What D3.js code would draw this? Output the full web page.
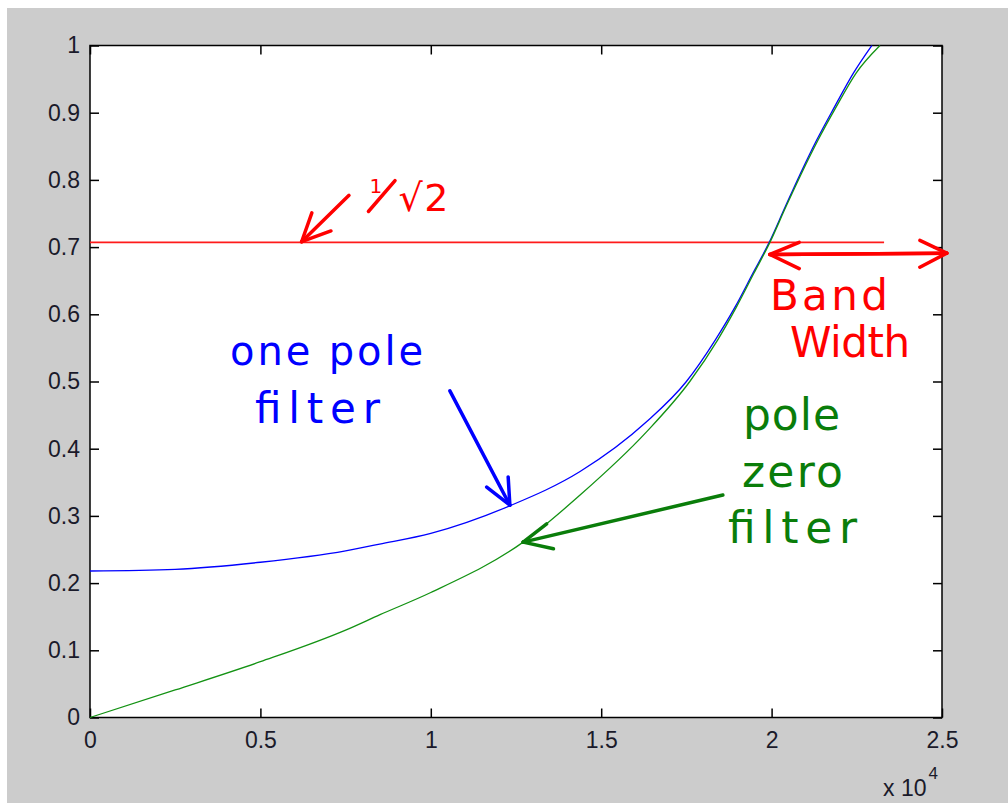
<!DOCTYPE html>
<html>
<head>
<meta charset="utf-8">
<script src="https://cdn.jsdelivr.net/npm/d3@7"></script>
<style>
  html, body { margin: 0; padding: 0; background: #ffffff; }
  svg { display: block; }
</style>
</head>
<body>
<svg id="chart" width="1008" height="803"></svg>
<script>
// tick values and labels (x axis is in units of 10^4)
const xTicks = [0, 0.5, 1, 1.5, 2, 2.5]
const xTickLabels = ['0', '0.5', '1', '1.5', '2', '2.5']
const yTicks = [0, 0.1, 0.2, 0.3, 0.4, 0.5, 0.6, 0.7, 0.8, 0.9, 1]
const yTickLabels = ['0', '0.1', '0.2', '0.3', '0.4', '0.5', '0.6', '0.7', '0.8', '0.9', '1']

// one pole filter (blue)
const onePoleFreq = [0, 0.25, 0.5, 0.75, 0.85, 1.0, 1.232, 1.438, 1.633, 1.75, 1.835, 1.893, 1.945, 1.993, 2.040, 2.085, 2.132, 2.185, 2.240, 2.294]
const onePoleGain = [0.218, 0.2205, 0.231, 0.248, 0.258, 0.274, 0.315, 0.366, 0.44, 0.5, 0.562, 0.611, 0.661, 0.707, 0.76, 0.81, 0.859, 0.909, 0.959, 1.0]

// pole zero filter (green)
const poleZeroFreq = [0, 0.25, 0.5, 0.75, 0.851, 1.0, 1.271, 1.438, 1.633, 1.76, 1.842, 1.897, 1.948, 1.995, 2.042, 2.088, 2.136, 2.190, 2.248, 2.318]
const poleZeroGain = [0, 0.041, 0.083, 0.13, 0.153, 0.186, 0.261, 0.331, 0.425, 0.5, 0.562, 0.611, 0.661, 0.707, 0.76, 0.81, 0.859, 0.909, 0.959, 1.0]

// 1/sqrt(2) line
const cutoffLevel = [0.7071]
const cutoffSpan = [0, 2.33]

const svg = d3.select('#chart')
const margin = {left: 90, top: 45.5, right: 66, bottom: 85.5}
const width = 1008 - margin.left - margin.right
const height = 803 - margin.top - margin.bottom

// grey figure background
svg.append('rect')
   .attr('x', 7)
   .attr('y', 8)
   .attr('width', 1001)
   .attr('height', 795)
   .style('fill', '#cccccc')

let x = d3.scaleLinear()
          .domain([0, 2.5])
          .range([margin.left, margin.left + width])

let y = d3.scaleLinear()
          .domain([0, 1])
          .range([margin.top + height, margin.top])

svg.append('rect')
   .attr('x', x(0))
   .attr('y', y(1))
   .attr('width', width)
   .attr('height', height)
   .style('fill', 'white')

// axes, MATLAB box style with inward ticks on every side
let tickLen = 9
let axisFont = (sel) => {
  sel.selectAll('text')
     .style('font-family', '"Liberation Sans", Arial, sans-serif')
     .style('font-size', '23px')
     .style('fill', '#1a1a2a')
  sel.select('.domain').remove()
  sel.selectAll('.tick line').style('stroke', '#000').style('stroke-width', 1.5)
}

let xAxis = svg.append('g')
               .attr('transform', `translate(0, ${y(0)})`)
               .call(d3.axisBottom(x).tickValues(xTicks).tickFormat((d, i) => xTickLabels[i])
                       .tickSizeInner(-tickLen).tickSizeOuter(0).tickPadding(14))
               .call(axisFont)
xAxis.selectAll('text').attr('dy', '0.71em')

svg.append('g')
   .attr('transform', `translate(0, ${y(1)})`)
   .call(d3.axisTop(x).tickValues(xTicks).tickFormat('').tickSizeInner(-tickLen).tickSizeOuter(0))
   .call(axisFont)

svg.append('g')
   .attr('transform', `translate(${x(0)}, 0)`)
   .call(d3.axisLeft(y).tickValues(yTicks).tickFormat((d, i) => yTickLabels[i])
           .tickSizeInner(-tickLen).tickSizeOuter(0).tickPadding(10))
   .call(axisFont)

svg.append('g')
   .attr('transform', `translate(${x(2.5)}, 0)`)
   .call(d3.axisRight(y).tickValues(yTicks).tickFormat('').tickSizeInner(-tickLen).tickSizeOuter(0))
   .call(axisFont)

svg.append('rect')
   .attr('x', x(0))
   .attr('y', y(1))
   .attr('width', width)
   .attr('height', height)
   .style('fill', 'none')
   .style('stroke', '#000')
   .style('stroke-width', 1.5)

// exponent label
let expLabel = svg.append('text')
                  .attr('x', x(2.5) - 59)
                  .attr('y', 796)
                  .style('font-family', '"Liberation Sans", Arial, sans-serif')
                  .style('font-size', '23px')
                  .style('fill', '#1a1a2a')
expLabel.append('tspan').text('x 10')
expLabel.append('tspan').text('4').attr('dy', -17).style('font-size', '17px').attr('dx', 2)

// curves
let lineGenerator = d3.line()
                      .x(d => x(d[0]))
                      .y(d => y(d[1]))
                      .curve(d3.curveMonotoneX)

svg.append('path')
   .datum(cutoffSpan.map(f => [f, cutoffLevel[0]]))
   .attr('d', d3.line().x(d => x(d[0])).y(d => y(d[1])))
   .style('fill', 'none')
   .style('stroke', '#ff1a1a')
   .style('stroke-width', 1.6)

svg.append('path')
   .datum(onePoleFreq.map((f, i) => [f, onePoleGain[i]]))
   .attr('d', lineGenerator)
   .style('fill', 'none')
   .style('stroke', '#0000ff')
   .style('stroke-width', 1.3)

svg.append('path')
   .datum(poleZeroFreq.map((f, i) => [f, poleZeroGain[i]]))
   .attr('d', lineGenerator)
   .style('fill', 'none')
   .style('stroke', '#139213')
   .style('stroke-width', 1.3)

// hand drawn annotations, placed in data units
let handFont = '"DejaVu Sans", sans-serif'

let drawArrow = (pts, colour, w) => {
  // pts: [start, tip, head1, head2]
  let [s, tip, h1, h2] = pts
  let g = svg.append('g')
             .style('stroke', colour)
             .style('stroke-width', w)
             .style('stroke-linecap', 'round')
             .style('fill', 'none')
  g.append('line').attr('x1', x(s[0])).attr('y1', y(s[1])).attr('x2', x(tip[0])).attr('y2', y(tip[1]))
  g.append('line').attr('x1', x(h1[0])).attr('y1', y(h1[1])).attr('x2', x(tip[0])).attr('y2', y(tip[1]))
  g.append('line').attr('x1', x(h2[0])).attr('y1', y(h2[1])).attr('x2', x(tip[0])).attr('y2', y(tip[1]))
}

let drawHand = (txt, pos, len, size, colour) => {
  svg.append('text')
     .text(txt)
     .attr('x', x(pos[0]))
     .attr('y', y(pos[1]))
     .attr('textLength', len)
     .attr('lengthAdjust', 'spacing')
     .style('font-family', handFont)
     .style('font-size', size + 'px')
     .style('fill', colour)
}

// 1/sqrt(2)
drawArrow([[0.760, 0.777], [0.621, 0.708], [0.651, 0.751], [0.707, 0.724]], '#ff0000', 3.5)
svg.append('text')
   .text('1')
   .attr('x', x(0.82))
   .attr('y', y(0.781))
   .style('font-family', handFont)
   .style('font-size', '20px')
   .style('fill', '#ff0000')
svg.append('line')
   .attr('x1', x(0.817)).attr('y1', y(0.753))
   .attr('x2', x(0.895)).attr('y2', y(0.799))
   .style('stroke', '#ff0000')
   .style('stroke-width', 3.5)
   .style('stroke-linecap', 'round')
drawHand('√2', [0.905, 0.753], 50, 38, '#ff0000')

// band width
drawArrow([[2.514, 0.691], [1.995, 0.689], [2.081, 0.707], [2.081, 0.668]], '#ff0000', 3.5)
drawArrow([[1.995, 0.689], [2.514, 0.691], [2.435, 0.710], [2.435, 0.670]], '#ff0000', 3.5)
drawHand('Band', [1.995, 0.6064], 118, 42, '#ff0000')
drawHand('Width', [2.054, 0.5365], 120, 42, '#ff0000')

// one pole filter
drawArrow([[1.056, 0.486], [1.232, 0.316], [1.227, 0.358], [1.164, 0.343]], '#0000ff', 3.5)
drawHand('one pole', [0.411, 0.525], 193, 40, '#0000ff')
drawHand('filter', [0.484, 0.438], 125, 42, '#0000ff')

// pole zero filter
drawArrow([[1.857, 0.331], [1.271, 0.261], [1.340, 0.288], [1.360, 0.251]], '#0a7d0a', 3.5)
drawHand('pole', [1.916, 0.4278], 97, 44, '#0a7d0a')
drawHand('zero', [1.913, 0.3430], 101, 44, '#0a7d0a')
drawHand('filter', [1.872, 0.2597], 129, 44, '#0a7d0a')
</script>
</body>
</html>
